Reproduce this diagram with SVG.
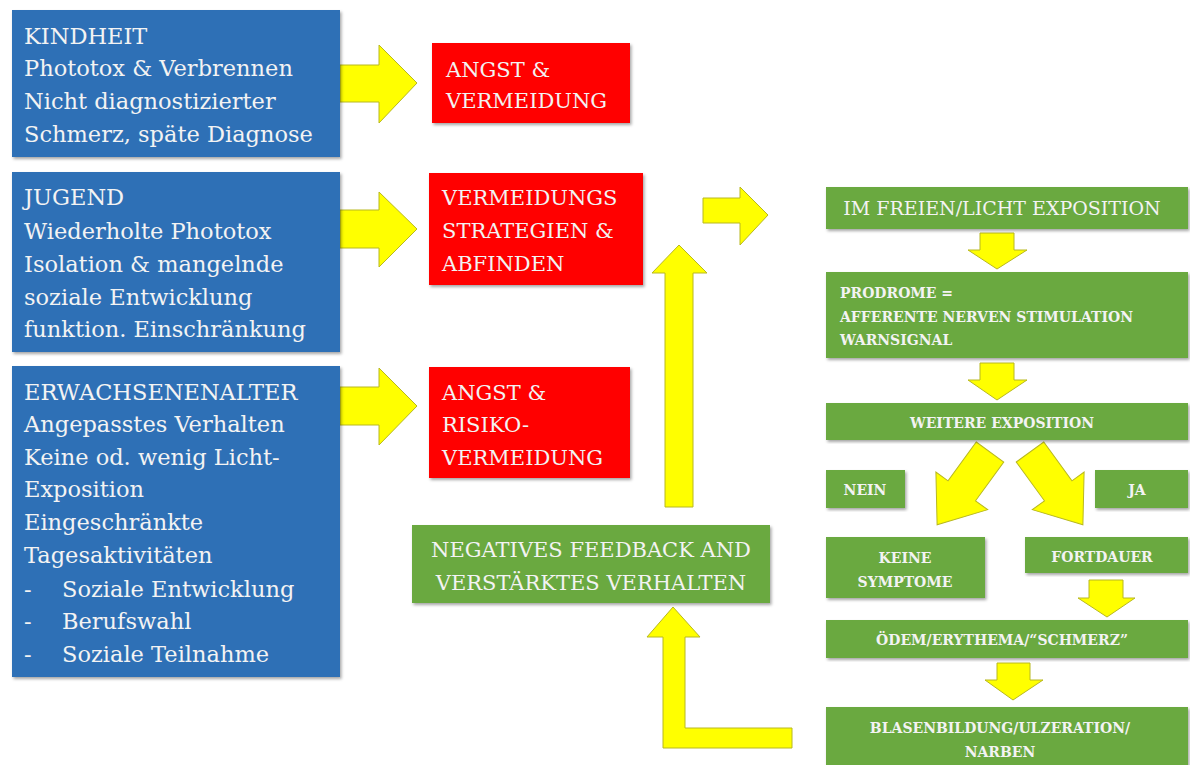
<svg xmlns="http://www.w3.org/2000/svg" width="1190" height="765" viewBox="0 0 1190 765">
<defs>
<filter id="sh" x="-5%" y="-5%" width="110%" height="115%">
<feDropShadow dx="1.5" dy="2" stdDeviation="1.5" flood-color="#000" flood-opacity="0.35"/>
</filter>
<style>
.blue{fill:#2e6fb6;filter:url(#sh)}
.red{fill:#ff0000;filter:url(#sh)}
.green{fill:#6aa940;filter:url(#sh)}
.arr{fill:#ffff00;stroke:#b8b820;stroke-width:1}
text{font-family:"DejaVu Serif","Liberation Serif",serif;fill:#f3f3f3}
.bt{font-size:22.5px}
.rt{font-size:21px}
.gl{font-size:19px}
.gm{font-size:21px}
.gs{font-size:14px;font-weight:bold}
.c{text-anchor:middle}
</style>
</defs>
<rect width="1190" height="765" fill="#ffffff"/>

<g id="connectors">
<polygon class="arr" points="340,65 379,65 379,45 417,83 379,123 379,102 340,102"/>
<polygon class="arr" points="340,210 379,210 379,192 417,229 379,267 379,248 340,248"/>
<polygon class="arr" points="340,387 379,387 379,368 417,406 379,445 379,425 340,425"/>
<polygon class="arr" points="703,198 740,198 740,187 768,215 740,245 740,223 703,223"/>
<polygon class="arr" points="665,507 665,273 652,273 679,245 707,273 693,273 693,507"/>
<polygon class="arr" points="663,748 663,637 647,637 673,607 700,637 685,637 685,728 792,728 792,748"/>
<polygon class="arr" points="980,233 1014,233 1014,250 1027,250 997,269 968,250 980,250"/>
<polygon class="arr" points="980,363 1014,363 1014,380 1027,380 997,400 968,380 980,380"/>
<polygon class="arr" points="1089,580 1123,580 1123,598 1135,598 1107,617 1078,598 1089,598"/>
<polygon class="arr" points="997,663 1030,663 1030,680 1043,680 1013,700 985,680 997,680"/>
<polygon class="arr" transform="translate(990,452) rotate(36)" points="-17,0 17,0 17,48 32,48 0,90 -32,48 -17,48"/>
<polygon class="arr" transform="translate(1030,452) rotate(-36)" points="-17,0 17,0 17,48 32,48 0,90 -32,48 -17,48"/>
</g>

<g id="kindheit">
<rect class="blue" x="12" y="10" width="328" height="147"/>
<text class="bt" x="24" y="44">KINDHEIT</text>
<text class="bt" x="24" y="76">Phototox &amp; Verbrennen</text>
<text class="bt" x="24" y="109">Nicht diagnostizierter</text>
<text class="bt" x="24" y="142">Schmerz, späte Diagnose</text>
</g>

<g id="jugend">
<rect class="blue" x="12" y="172" width="328" height="180"/>
<text class="bt" x="24" y="205">JUGEND</text>
<text class="bt" x="24" y="239">Wiederholte Phototox</text>
<text class="bt" x="24" y="272">Isolation &amp; mangelnde</text>
<text class="bt" x="24" y="305">soziale Entwicklung</text>
<text class="bt" x="24" y="337">funktion. Einschränkung</text>
</g>

<g id="erwachsenenalter">
<rect class="blue" x="12" y="366" width="328" height="311"/>
<text class="bt" x="24" y="400">ERWACHSENENALTER</text>
<text class="bt" x="24" y="432">Angepasstes Verhalten</text>
<text class="bt" x="24" y="465">Keine od. wenig Licht-</text>
<text class="bt" x="24" y="497">Exposition</text>
<text class="bt" x="24" y="530">Eingeschränkte</text>
<text class="bt" x="24" y="563">Tagesaktivitäten</text>
<text class="bt" x="24" y="597">-</text><text class="bt" x="62" y="597">Soziale Entwicklung</text>
<text class="bt" x="24" y="629">-</text><text class="bt" x="62" y="629">Berufswahl</text>
<text class="bt" x="24" y="662">-</text><text class="bt" x="62" y="662">Soziale Teilnahme</text>
</g>

<g id="angst-vermeidung">
<rect class="red" x="432" y="43" width="198" height="80"/>
<text class="rt" x="446" y="77">ANGST &amp;</text>
<text class="rt" x="446" y="108">VERMEIDUNG</text>
</g>

<g id="vermeidungsstrategien">
<rect class="red" x="429" y="173" width="214" height="112"/>
<text class="rt" x="442" y="205">VERMEIDUNGS</text>
<text class="rt" x="442" y="238">STRATEGIEN &amp;</text>
<text class="rt" x="442" y="271">ABFINDEN</text>
</g>

<g id="angst-risikovermeidung">
<rect class="red" x="429" y="367" width="201" height="111"/>
<text class="rt" x="442" y="400">ANGST &amp;</text>
<text class="rt" x="442" y="432">RISIKO-</text>
<text class="rt" x="442" y="465">VERMEIDUNG</text>
</g>

<g id="negatives-feedback">
<rect class="green" x="412" y="525" width="358" height="78"/>
<text class="gm c" x="591" y="557">NEGATIVES FEEDBACK AND</text>
<text class="gm c" x="591" y="590">VERSTÄRKTES VERHALTEN</text>
</g>

<g id="im-freien">
<rect class="green" x="826" y="187" width="362" height="42"/>
<text class="gl c" x="1002" y="215">IM FREIEN/LICHT EXPOSITION</text>
</g>

<g id="prodrome">
<rect class="green" x="826" y="272" width="362" height="86"/>
<text class="gs" x="840" y="298">PRODROME  =</text>
<text class="gs" x="840" y="322">AFFERENTE NERVEN STIMULATION</text>
<text class="gs" x="840" y="345">WARNSIGNAL</text>
</g>

<g id="weitere-exposition">
<rect class="green" x="826" y="403" width="362" height="37"/>
<text class="gs c" x="1002" y="428">WEITERE EXPOSITION</text>
</g>

<g id="nein">
<rect class="green" x="826" y="470" width="79" height="38"/>
<text class="gs c" x="865" y="495">NEIN</text>
</g>

<g id="ja">
<rect class="green" x="1095" y="470" width="93" height="38"/>
<text class="gs c" x="1137" y="495">JA</text>
</g>

<g id="keine-symptome">
<rect class="green" x="826" y="537" width="159" height="61"/>
<text class="gs c" x="905" y="563">KEINE</text>
<text class="gs c" x="905" y="587">SYMPTOME</text>
</g>

<g id="fortdauer">
<rect class="green" x="1025" y="537" width="163" height="36"/>
<text class="gs c" x="1102" y="562">FORTDAUER</text>
</g>

<g id="oedem">
<rect class="green" x="826" y="620" width="362" height="38"/>
<text class="gs c" x="1002" y="645">ÖDEM/ERYTHEMA/“SCHMERZ”</text>
</g>

<g id="blasenbildung">
<rect class="green" x="826" y="707" width="362" height="62"/>
<text class="gs c" x="1000" y="733">BLASENBILDUNG/ULZERATION/</text>
<text class="gs c" x="1000" y="757">NARBEN</text>
</g>
</svg>
